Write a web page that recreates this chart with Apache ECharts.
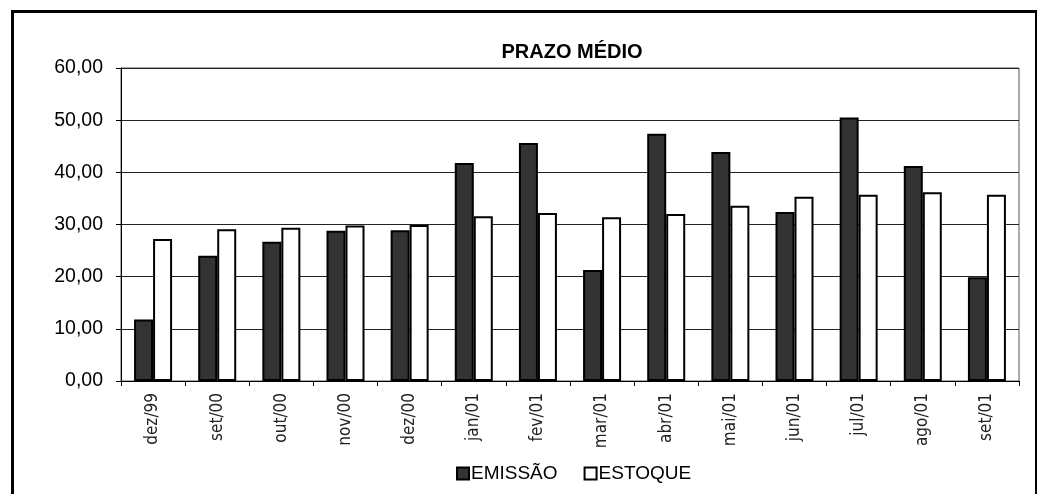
<!DOCTYPE html>
<html>
<head>
<meta charset="utf-8">
<script src="https://cdn.jsdelivr.net/npm/echarts@6/dist/echarts.min.js"></script>
<style>
  html, body { margin: 0; padding: 0; background: #fff; }
  #frame { position: absolute; left: 11px; top: 10px; width: 1021px; height: 490px;
           border-top: 3px solid #000; border-left: 3px solid #000; border-right: 3px solid #000; }
  #chart { position: absolute; left: 0; top: 0; width: 1037px; height: 494px; }
</style>
</head>
<body>
<div id="frame"></div>
<div id="chart"></div>
<script>
var meses = ['dez/99', 'set/00', 'out/00', 'nov/00', 'dez/00', 'jan/01', 'fev/01',
             'mar/01', 'abr/01', 'mai/01', 'jun/01', 'jul/01', 'ago/01', 'set/01'];
var emissao = [11.8, 24.0, 26.7, 28.8, 28.9, 41.8, 45.6, 21.3, 47.4, 43.9, 32.4, 50.5, 41.2, 19.9];
var estoque = [27.2, 29.1, 29.4, 29.8, 29.9, 31.6, 32.2, 31.4, 32.0, 33.6, 35.3, 35.7, 36.2, 35.7];

var chart = echarts.init(document.getElementById('chart'));
var option = {
    animation: false,
    title: {
        text: 'PRAZO MÉDIO',
        left: 567,
        textAlign: 'center',
        top: 37,
        textStyle: { fontFamily: 'Liberation Sans', fontSize: 20, fontWeight: 'bold', color: '#000' }
    },
    legend: {
        left: 451,
        top: 459,
        itemWidth: 12,
        itemHeight: 12,
        itemGap: 26,
        icon: 'rect',
        textStyle: { fontFamily: 'Liberation Sans', fontSize: 19, color: '#000', padding: [0, 0, 0, -3] },
        data: ['EMISSÃO', 'ESTOQUE']
    },
    grid: { left: 121, right: 18, top: 68, bottom: 113, show: true, borderColor: '#555', borderWidth: 1 },
    xAxis: {
        type: 'category',
        data: meses,
        axisLine: { lineStyle: { color: '#000', width: 1 } },
        axisTick: { show: true, length: 5, lineStyle: { color: '#000' } },
        axisLabel: { rotate: 90, margin: 12, color: '#222', fontFamily: 'DejaVu Sans Condensed',
                     fontWeight: 'lighter', fontSize: 17 }
    },
    yAxis: {
        type: 'value',
        min: 0,
        max: 60,
        interval: 10,
        axisLine: { show: true, lineStyle: { color: '#000', width: 1 } },
        axisTick: { show: true, length: 5, lineStyle: { color: '#000' } },
        axisLabel: { margin: 18, color: '#000', fontFamily: 'Liberation Sans', fontSize: 19.5,
                     formatter: function (v) { return v.toFixed(2).replace('.', ','); } },
        splitLine: { lineStyle: { color: '#222', width: 1 } }
    },
    series: [
        {
            name: 'EMISSÃO',
            type: 'bar',
            data: emissao,
            barWidth: 19,
            barGap: '0%',
            itemStyle: { color: '#333333', borderColor: '#000', borderWidth: 2 }
        },
        {
            name: 'ESTOQUE',
            type: 'bar',
            data: estoque,
            barWidth: 19,
            itemStyle: { color: '#ffffff', borderColor: '#000', borderWidth: 2 }
        }
    ]
};
chart.setOption(option);
</script>
</body>
</html>
